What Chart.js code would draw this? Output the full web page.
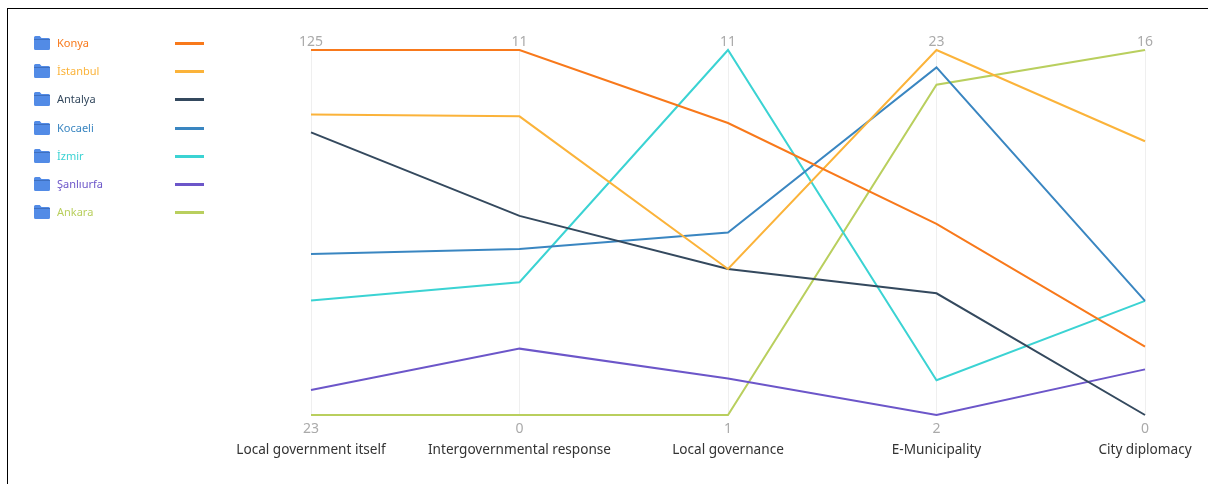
<!DOCTYPE html>
<html lang="en">
<head>
    <meta charset="UTF-8">
    <title>Local government topics by city</title>
    <script src="https://cdn.jsdelivr.net/npm/chart.js"></script>
    <style>
        html, body { margin: 0; padding: 0; background: #fff; overflow: hidden; }
        #frame { position: absolute; left: 7px; top: 8px; width: 1300px; height: 600px; border: 1px solid #000; box-sizing: border-box; }
        #wrap { position: absolute; left: 0; top: 0; width: 1208px; height: 484px; }
        #legend { position: absolute; left: 34px; top: 29px; font-family: "Noto Sans", sans-serif; font-size: 11px; }
        .row { position: absolute; left: 0; height: 28px; width: 172px; }
        .row svg { position: absolute; left: 0; top: 6px; }
        .row span { position: absolute; left: 23px; top: 6px; line-height: 16px; }
        .row i { position: absolute; left: 141px; top: 13px; width: 29px; height: 3px; }
    </style>
</head>
<body>
    <div id="frame"></div>
    <div id="wrap"><canvas id="chart" width="1208" height="484"></canvas></div>
    <div id="legend"></div>

    <script>
        const categories = ["Local government itself", "Intergovernmental response", "Local governance", "E-Municipality", "City diplomacy"];
        // each category has its own range, printed above and below its line
        const axisMax = [125, 11, 11, 23, 16];
        const axisMin = [23, 0, 1, 2, 0];

        const cities = ["Konya", "İstanbul", "Antalya", "Kocaeli", "İzmir", "Şanlıurfa", "Ankara"];
        const colors = ["#f8791b", "#fbb33a", "#34495e", "#3a86c1", "#3bd3d3", "#6c56c9", "#b9cf5e"];

        const konya = [125, 11, 9, 13, 3];
        const istanbul = [107, 9, 5, 23, 12];
        const antalya = [102, 6, 5, 9, 0];
        const kocaeli = [68, 5, 6, 22, 5];
        const izmir = [55, 4, 11, 4, 5];
        const sanliurfa = [30, 2, 2, 2, 2];
        const ankara = [23, 0, 1, 21, 16];
        const series = [konya, istanbul, antalya, kocaeli, izmir, sanliurfa, ankara];

        const scaled = values => values.map((v, i) => (v - axisMin[i]) / (axisMax[i] - axisMin[i]));

        const font = "'Noto Sans', sans-serif";
        const folder = '<svg width="16" height="15" viewBox="0 0 16 15"><path d="M1.5 1h4.2l1.8 2H14.5a1.5 1.5 0 0 1 1.5 1.5v9a1.5 1.5 0 0 1-1.5 1.5h-13A1.5 1.5 0 0 1 0 13.5v-11A1.5 1.5 0 0 1 1.5 1z" fill="#528be6"/><path d="M0 4.5h16" stroke="#3f70c0" stroke-width="1"/></svg>';

        // rows sit on whole pixels so the swatches stay the same thickness
        document.getElementById("legend").innerHTML = cities.map((c, i) =>
            `<div class="row" style="top:${Math.round(i * 28.17)}px">${folder}<span style="color:${colors[i]}">${c}</span><i style="background:${colors[i]}"></i></div>`
        ).join("");

        Chart.defaults.animation = false;

        new Chart(document.getElementById("chart"), {
            type: "line",
            data: {
                labels: categories,
                datasets: cities.map((c, i) => ({
                    label: c,
                    data: scaled(series[i]),
                    borderColor: colors[i],
                    borderWidth: 2,
                    pointRadius: 0,
                    tension: 0,
                    clip: false
                }))
            },
            options: {
                responsive: false,
                layout: { padding: { left: 311, right: 63, top: 30, bottom: 22 } },
                plugins: { legend: { display: false }, tooltip: { enabled: false } },
                scales: {
                    x: {
                        position: "bottom",
                        offset: false,
                        border: { display: false },
                        grid: { color: "#efefef", drawTicks: false },
                        afterFit: s => { s.height = 24; },
                        ticks: {
                            autoSkip: false, maxRotation: 0, padding: 6,
                            color: "#aaaaaa",
                            font: { family: font, size: 14 },
                            callback: (v, i) => axisMin[i]
                        }
                    },
                    xNames: {
                        axis: "x",
                        type: "category",
                        labels: categories,
                        position: "bottom",
                        offset: false,
                        border: { display: false },
                        grid: { display: false, drawTicks: false },
                        afterFit: s => { s.height = 23; },
                        ticks: {
                            autoSkip: false, maxRotation: 0, padding: 3,
                            color: "#333333",
                            font: { family: font, size: 13.6 }
                        }
                    },
                    xTop: {
                        axis: "x",
                        type: "category",
                        labels: categories,
                        position: "top",
                        offset: false,
                        border: { display: false },
                        grid: { display: false, drawTicks: false },
                        afterFit: s => { s.height = 20; },
                        ticks: {
                            autoSkip: false, maxRotation: 0, padding: 0,
                            color: "#aaaaaa",
                            font: { family: font, size: 14 },
                            callback: (v, i) => axisMax[i]
                        }
                    },
                    y: { display: false, min: 0, max: 1 }
                }
            }
        });
    </script>
</body>
</html>
